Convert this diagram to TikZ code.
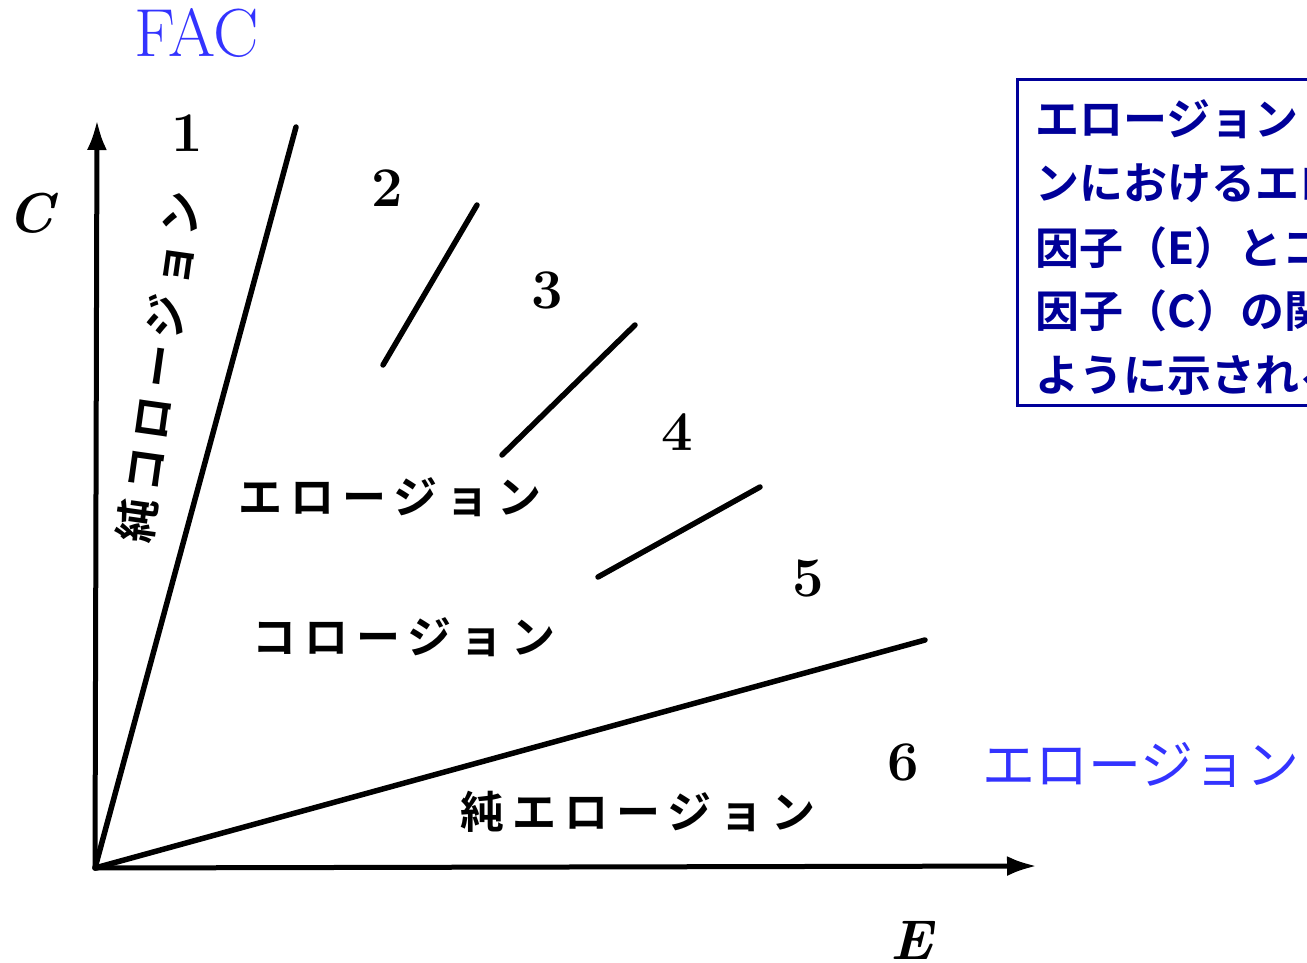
\documentclass[tikz,border=0pt]{standalone}
\usepackage{fontspec}
\usetikzlibrary{arrows.meta}
\newfontfamily\jpb{Noto Sans CJK JP}[BoldFont={Noto Sans CJK JP Bold}]
\newfontfamily\jpsp{Noto Sans CJK JP}[BoldFont={Noto Sans CJK JP Bold},LetterSpace=18]
\definecolor{lblue}{HTML}{3333FF}
\definecolor{navy}{HTML}{000099}
\tikzset{
  ln/.style={line width=5.5pt, line cap=round},
  ax/.style={line width=5pt, -{Latex[length=30pt,width=20pt]}},
  num/.style={font=\fontsize{56}{56}\selectfont\bfseries, inner sep=0pt},
  axlbl/.style={font=\fontsize{56}{56}\selectfont\bfseries\itshape, inner sep=0pt},
  reg/.style={font=\jpsp\bfseries\fontsize{44}{44}\selectfont, inner sep=0pt},
  boxtxt/.style={font=\jpb\bfseries\fontsize{44}{44}\selectfont, text=navy, inner sep=0pt, anchor=base west},
}
\begin{document}
\begin{tikzpicture}[x=1pt,y=-1pt]
\useasboundingbox (0,0) rectangle (1307,963);
\clip (0,0) rectangle (1307,963);
% coordinates
\coordinate (O) at (95,868);
\coordinate (Ctop) at (97,120);
\coordinate (Eend) at (1037,866);
\coordinate (L1) at (296,127);
\coordinate (L5) at (925,640);
\coordinate (s2a) at (383,365); \coordinate (s2b) at (477,205);
\coordinate (s3a) at (502,455); \coordinate (s3b) at (635,325);
\coordinate (s4a) at (598,577); \coordinate (s4b) at (760,487);
% axes
\draw[ax] (O) -- (Ctop);
\draw[ax] (O) -- (Eend);
% boundary lines
\draw[ln] (O) -- (L1);
\draw[ln] (O) -- (L5);
\draw[ln] (s2a) -- (s2b);
\draw[ln] (s3a) -- (s3b);
\draw[ln] (s4a) -- (s4b);
% labels
\node[font=\fontsize{68}{68}\selectfont, text=lblue, inner sep=0pt] (fac) at (197,33) {FAC};
\node[axlbl] (cl) at (31,213) {C};
\node[axlbl] (el) at (912,940) {E};
\node[num] (n1) at (187,133) {1};
\node[num] (n2) at (387,188) {2};
\node[num] (n3) at (547,290) {3};
\node[num] (n4) at (677,432) {4};
\node[num] (n5) at (808,578) {5};
\node[num] (n6) at (903,762) {6};
\node[reg] (r1) at (390,497) {エロージョン};
\node[reg] (r2) at (404,637) {コロージョン};
\node[reg] (r3) at (638,812) {純エロージョン};
\node[reg, rotate=82] (r0) at (159,367) {純コロージョン};
% blue annotation
\node[font=\jpb\fontsize{53}{53}\selectfont, text=lblue, inner sep=0pt, anchor=west] (ero) at (982,765) {エロージョン};
\draw[navy, line width=3pt] (1330,80) -| (1017,405) -- (1330,405);
\node[boxtxt] (t1) at (1035,136) {エロージョン・コロージョ};
\node[boxtxt] (t2) at (1035,200) {ンにおけるエロージョン};
\node[boxtxt] (t3) at (1035,264) {因子（E）とコロージョン};
\node[boxtxt] (t4) at (1035,327) {因子（C）の関係は次の};
\node[boxtxt] (t5) at (1035,391) {ように示される。};
\end{tikzpicture}
\end{document}
